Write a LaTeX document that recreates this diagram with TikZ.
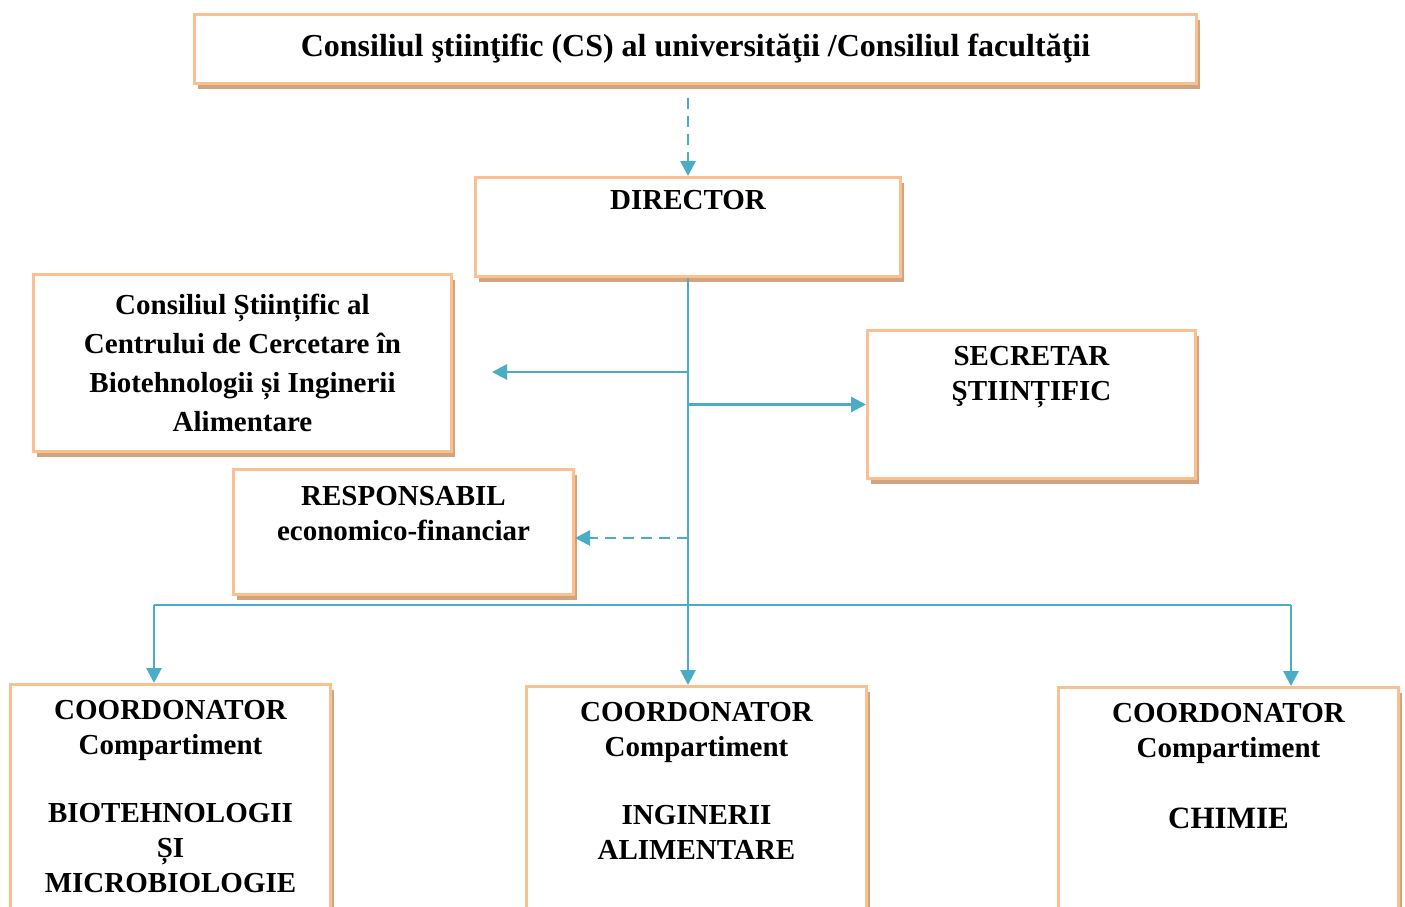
\documentclass[tikz,border=0pt]{standalone}
\usepackage{fontspec}
\setmainfont{Liberation Serif}
\usetikzlibrary{positioning,shadows,arrows.meta}
\definecolor{boxline}{HTML}{FAC08F}
\definecolor{boxshade}{HTML}{D1A37E}
\definecolor{linkblue}{HTML}{4BACC6}
\begin{document}
\begin{tikzpicture}[x=1pt, y=-1pt,
    unit/.style={rectangle, draw=boxline, line width=3pt, fill=white, anchor=north west,
      general shadow={fill=boxshade, shadow xshift=3pt, shadow yshift=-5pt}},
    title/.style={font=\bfseries\fontsize{29}{35}\selectfont, align=center, inner sep=0pt},
    link/.style={draw=linkblue, line width=2.8pt},
    tip/.style={-{Triangle[length=15pt, width=15pt]}}]
        \clip (0,0) rectangle (1405,906);
        % Consiliul universitatii
        \node[unit, title, font=\bfseries\fontsize{32}{38}\selectfont, minimum width=1002pt, minimum height=69pt] (cs) at (193,13)
            {Consiliul ştiinţific (CS) al universităţii /Consiliul facultăţii};

        % Director
        \node[unit, minimum width=425pt, minimum height=99pt] (dir) at (474,176) {};
        \node[title, below=14pt of dir.north] (dirtxt) {DIRECTOR};

        % Consiliul centrului
        \node[unit, title, font=\bfseries\fontsize{29}{39}\selectfont, minimum width=418pt, minimum height=177pt] (cscc) at (32,273)
            {Consiliul Științific al\\Centrului de Cercetare în\\Biotehnologii și Inginerii\\Alimentare};
        \coordinate (cscctip) at (492,372);

        % Secretar
        \node[unit, minimum width=328pt, minimum height=148pt] (sec) at (866,329) {};
        \node[title, below=17pt of sec.north] (sectxt) {SECRETAR\\ŞTIINȚIFIC};

        % Responsabil
        \node[unit, minimum width=340pt, minimum height=125pt] (resp) at (232,468) {};
        \node[title, below=18pt of resp.north] (resptxt) {RESPONSABIL\\economico-financiar};

        % Compartimente
        \node[unit, minimum width=320pt, minimum height=260pt] (bio) at (9,683) {};
        \node[title, below=17pt of bio.north] (biotxt)
            {COORDONATOR\\Compartiment\\[33pt]BIOTEHNOLOGII\\ȘI\\MICROBIOLOGIE};
        \node[unit, minimum width=340pt, minimum height=260pt] (ing) at (525,685) {};
        \node[title, below=17pt of ing.north] (ingtxt)
            {COORDONATOR\\Compartiment\\[33pt]INGINERII\\ALIMENTARE};
        \node[unit, minimum width=340pt, minimum height=260pt] (chim) at (1057,686) {};
        \node[title, below=17pt of chim.north] (chimtxt)
            {COORDONATOR\\Compartiment\\[36pt]{\fontsize{31}{35}\selectfont CHIMIE}};

        % Connections
        \coordinate (bus) at (dir.south |- 0,605);
        \draw[link, tip, dashed, dash pattern=on 11pt off 7pt, shorten <=13pt] (cs.south -| dir.north) -- (dir.north);
        \draw[link] (dir.south) -- (bus);
        \draw[link, tip] (dir.south |- cscctip) -- (cscctip);
        \draw[link, tip] (dir.south |- sec.west) -- (sec.west);
        \draw[link, tip, dashed, dash pattern=on 11pt off 7pt] (dir.south |- 0,538) -- (resp.east |- 0,538);
        \draw[link] (bus -| 154,0) -- (bus -| 1291,0);
        \draw[link, tip] (bus -| 154,0) -- (bio.north -| 154,0);
        \draw[link, tip] (bus) -- (ing.north -| bus);
        \draw[link, tip] (bus -| 1291,0) -- (chim.north -| 1291,0);
    \end{tikzpicture}
\end{document}
